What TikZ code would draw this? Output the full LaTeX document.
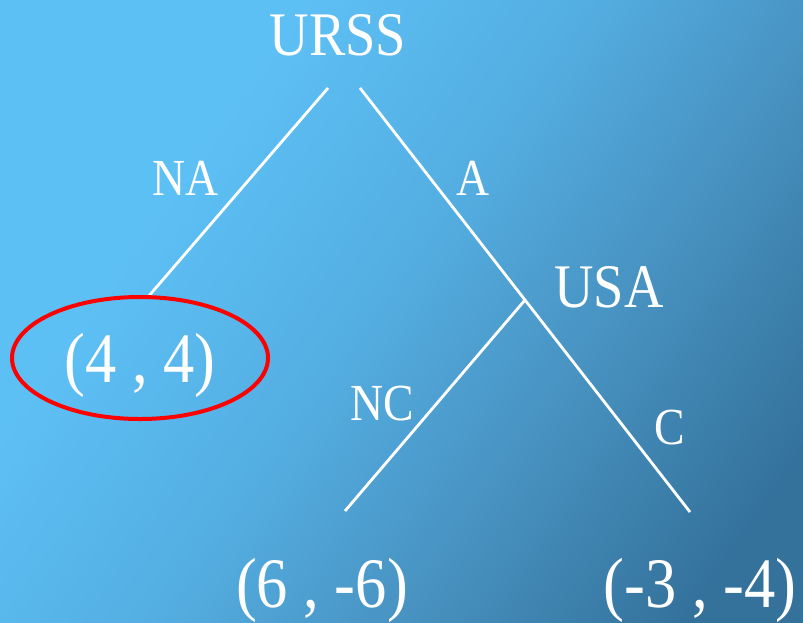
\documentclass[tikz,border=0pt]{standalone}
\usepackage{fontspec}
\setmainfont{Liberation Serif}[FakeStretch=0.88]
\definecolor{bgA}{HTML}{5DC0F5}
\definecolor{bgB}{HTML}{54AEE2}
\definecolor{bgC}{HTML}{4893C2}
\definecolor{bgD}{HTML}{34729C}
\pgfdeclarehorizontalshading{bgshade}{100bp}{color(0bp)=(bgA); color(32bp)=(bgA); color(48bp)=(bgB); color(62bp)=(bgC); color(78bp)=(bgD); color(100bp)=(bgD)}
\tikzset{
  branch/.style={draw=white, line width=2.8pt},
  player/.style={text=white, font=\fontsize{62}{70}\selectfont, inner sep=0pt},
  act/.style={text=white, font=\fontsize{52}{60}\selectfont, inner sep=0pt},
  payoff/.style={text=white, font=\fontsize{71}{80}\selectfont, inner sep=0pt, anchor=base}
}
\begin{document}
\begin{tikzpicture}[x=1pt,y=-1pt]
\useasboundingbox (0,0) rectangle (803,622);
\shade[shading=bgshade, shading angle=-35] (0,0) rectangle (803,622);
% nodes
\node[player] (urss) at (338,35) {URSS};
\node[player] (usa) at (609,287) {USA};
\node[payoff] (p1) at (140,382) {(4 , 4)};
\node[payoff] (p2) at (322,607) {(6 , -6)};
\node[payoff] (p3) at (700,607) {(-3 , -4)};
% branch endpoints
\coordinate (nA) at (328,88);
\coordinate (nAe) at (148,297);
\coordinate (aS) at (360,88);
\coordinate (aE) at (690,512);
\coordinate (ncS) at (525,300);
\coordinate (ncE) at (345,511);
\coordinate (ellc) at (140,358);
\draw[branch] (nA) -- (nAe);
\draw[branch] (aS) -- (aE);
\draw[branch] (ncS) -- (ncE);
% labels
\node[act] (lna) at (186,178) {NA};
\node[act] (la) at (473,178) {A};
\node[act] (lnc) at (382,404) {NC};
\node[act] (lc) at (670,428) {C};
% ellipse
\draw[red, line width=4pt] (ellc) ellipse [x radius=128, y radius=61];
\end{tikzpicture}
\end{document}
